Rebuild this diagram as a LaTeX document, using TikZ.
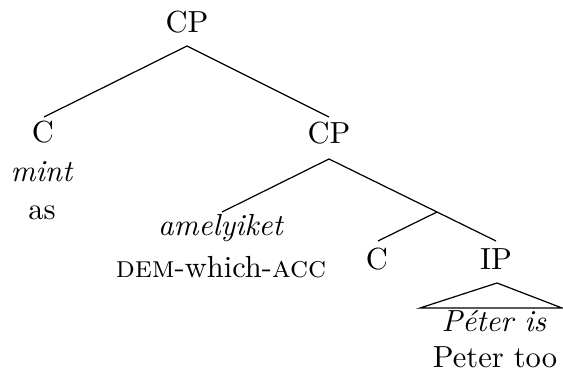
\documentclass[tikz,border=0pt]{standalone}
\usetikzlibrary{calc}
\begin{document}
\begin{tikzpicture}[x=0.32787pt,y=-0.32787pt,
  lbl/.style={inner sep=0pt,anchor=base},
  branch/.style={line width=0.4pt}]
\useasboundingbox (0,0) rectangle (563,383);
% labels, placed on their baselines
\node[lbl] (cp1)   at (187,33)  {CP};
\node[lbl] (c1)    at (43,143)  {C};
\node[lbl] (mint)  at (42,182)  {\textit{mint}};
\node[lbl] (as)    at (42,220)  {as};
\node[lbl] (cp2)   at (329,144) {CP};
\node[lbl] (ame)   at (221,236) {\textit{amelyiket}};
\node[lbl] (dem)   at (221,278) {\textsc{dem}-which-\textsc{acc}};
\node[lbl] (c2)    at (377,270) {C};
\node[lbl] (ip)    at (496,270) {IP};
\node[lbl] (peter) at (494,332) {\textit{Péter is}};
\node[lbl] (too)   at (495,368) {Peter too};
\coordinate (cbar) at (437,212);
% branches
\draw[branch] ($(cp1.base)+(0,13)$) -- ($(c1.base)+(1,-26)$);
\draw[branch] ($(cp1.base)+(0,13)$) -- ($(cp2.base)+(0,-27)$);
\draw[branch] ($(cp2.base)+(0,15)$) -- ($(ame.base)+(1,-24)$);
\draw[branch] ($(cp2.base)+(0,15)$) -- (cbar);
\draw[branch] (cbar) -- ($(c2.base)+(1,-29)$);
\draw[branch] (cbar) -- ($(ip.base)+(0,-29)$);
% roof over the IP
\draw[branch] ($(ip.base)+(1,13)$) -- ($(peter.base)+(-74,-24)$)
  -- ($(peter.base)+(68,-24)$) -- cycle;
\end{tikzpicture}
\end{document}
